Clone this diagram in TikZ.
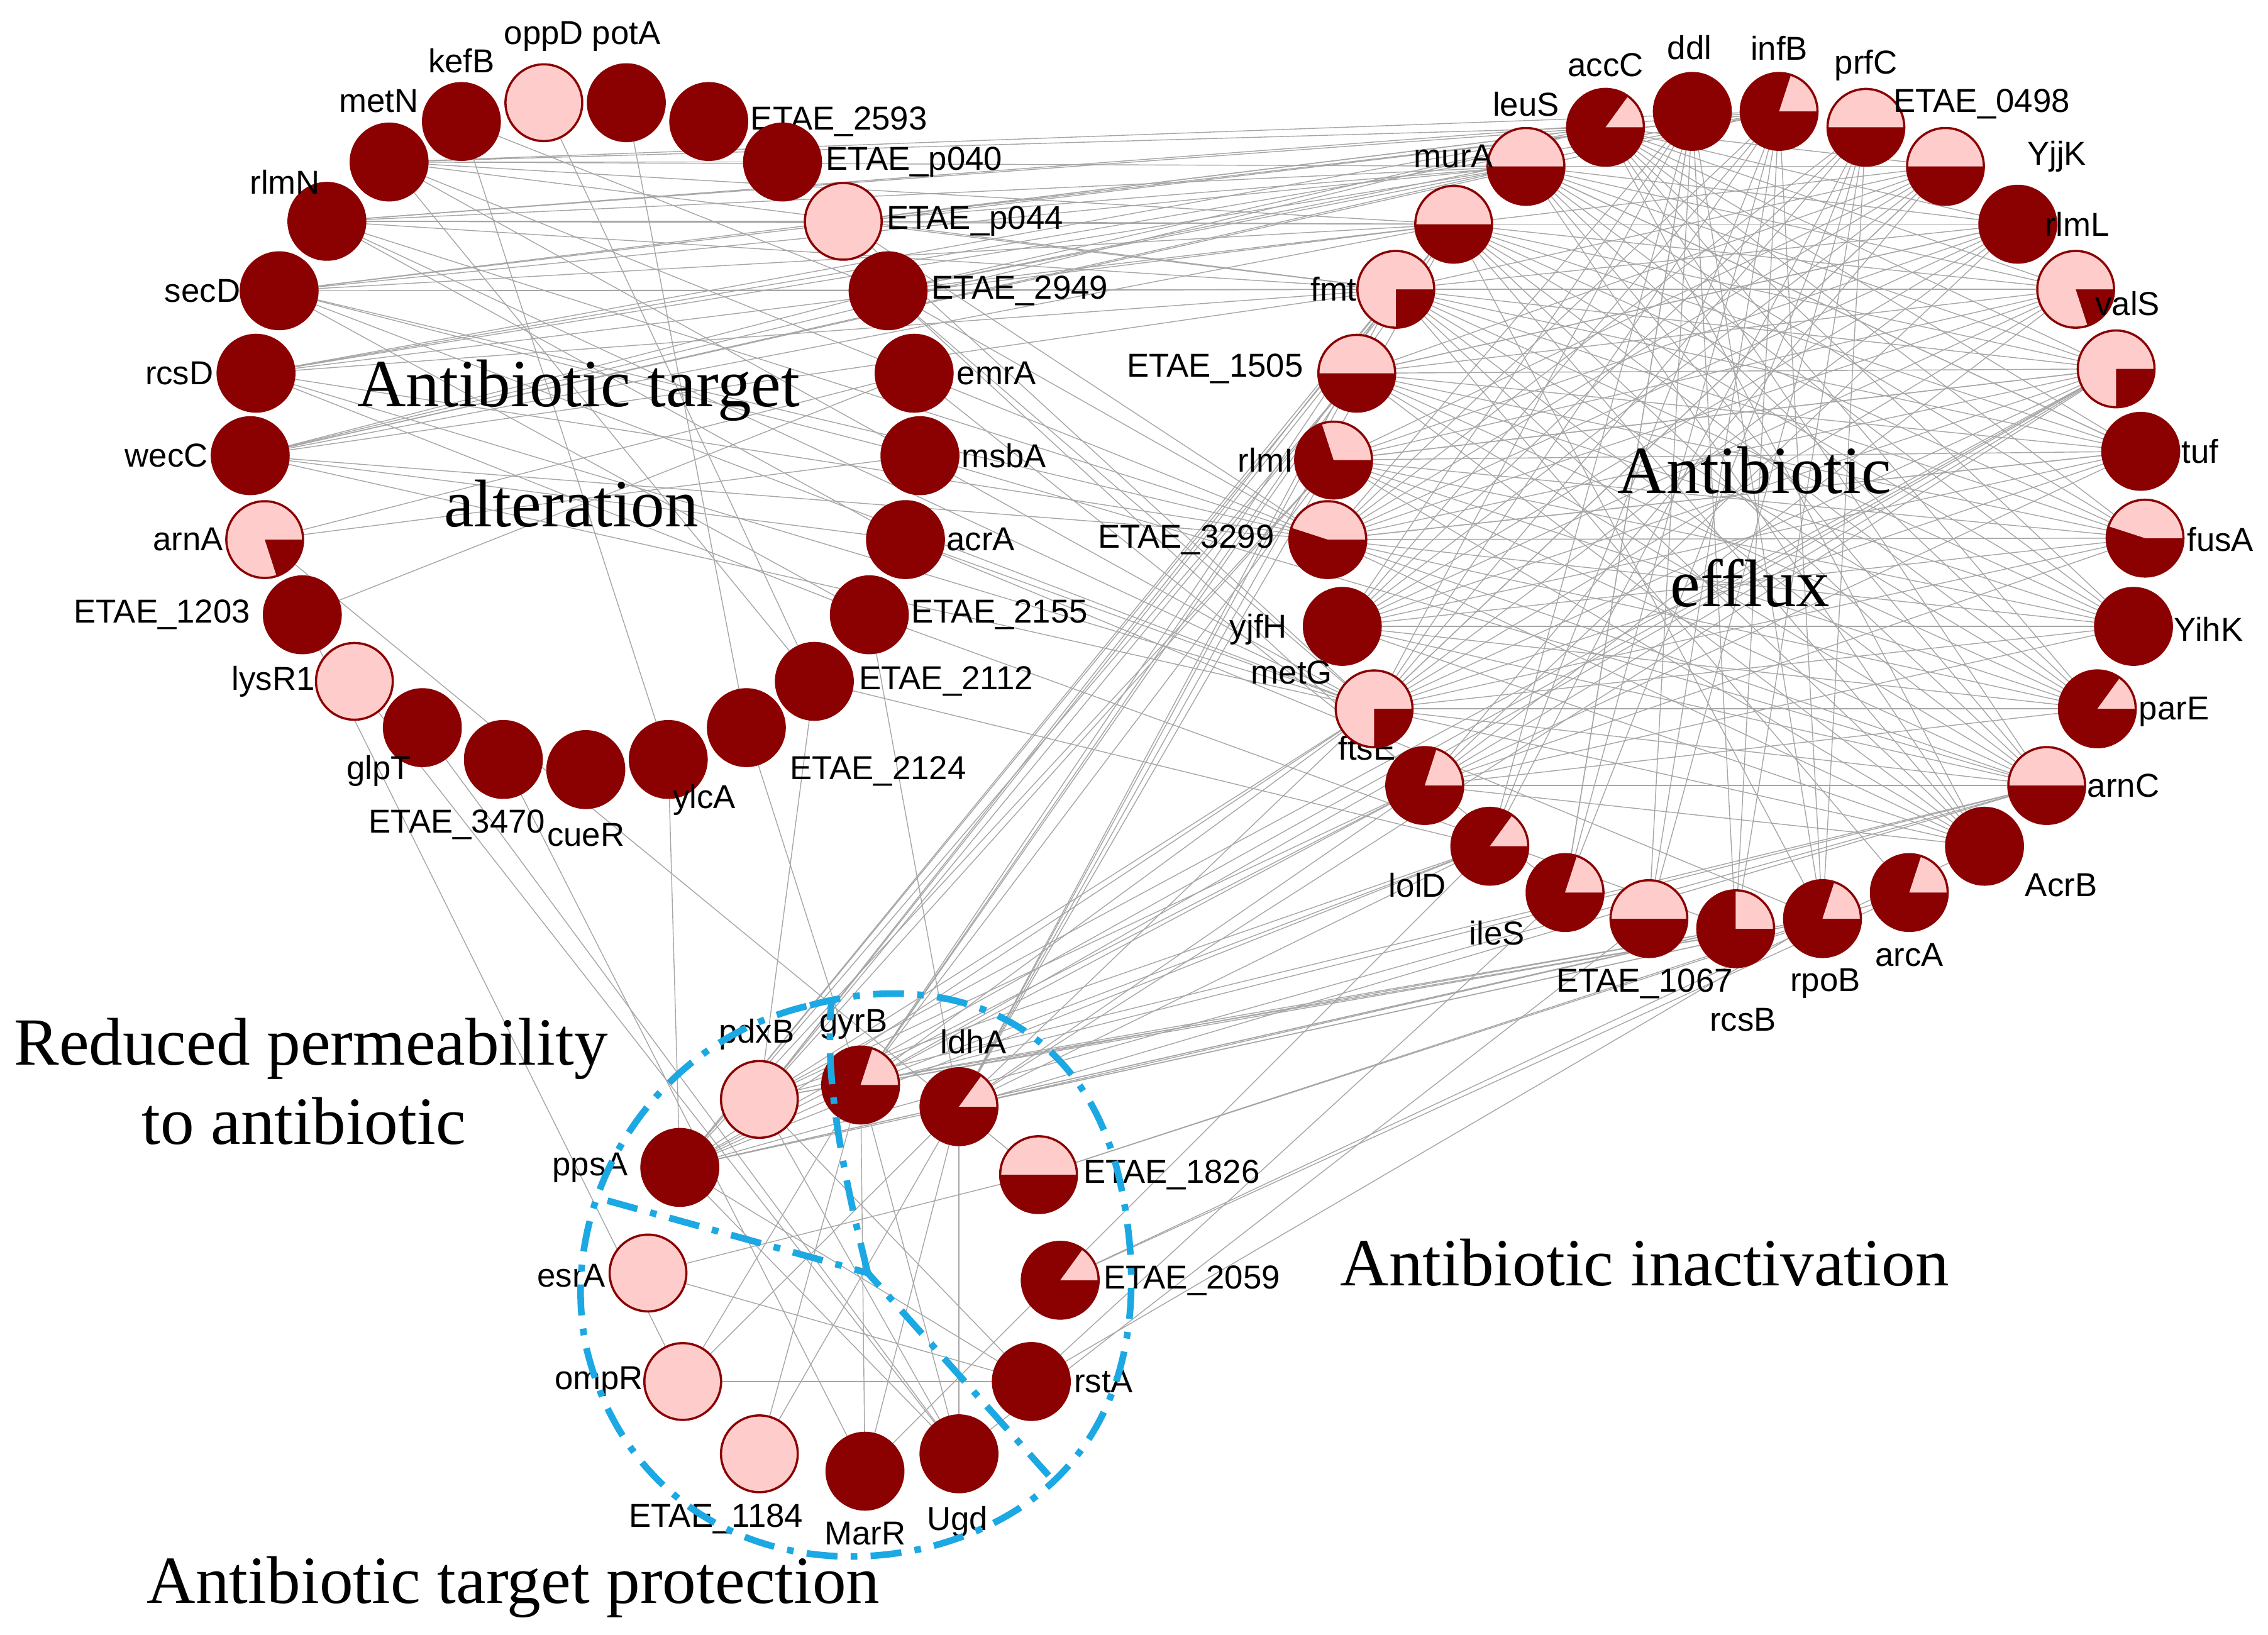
\documentclass[tikz,border=0pt]{standalone}
\usepackage{fontspec}
\setmainfont{Liberation Serif}
\newfontfamily\arialf{Liberation Sans}
\usetikzlibrary{backgrounds}
\definecolor{dr}{HTML}{8B0000}
\definecolor{pk}{HTML}{FFCCCC}
\definecolor{bl}{HTML}{1CA8E3}
\tikzset{
 gene/.style={circle,fill=dr,minimum size=1.24cm,inner sep=0pt},
 lab/.style={font=\arialf\fontsize{15}{17}\selectfont,inner sep=0pt},
 big/.style={font=\fontsize{30.5}{33}\selectfont,inner sep=0pt},
 edge/.style={gray!70,line width=0.4pt},
 loop/.style={bl,line width=3pt,dash pattern=on 14pt off 6pt on 3pt off 6pt}
}
\newcommand\gn[7]{%
 \node[gene] (#1) at (#2,#3) {};
 \ifdim #4pt>0pt \fill[pk] (#1.center) -- ++(0:0.6cm) arc (0:360*#4:0.6cm) -- cycle;\fi
 \draw[dr,line width=1pt] (#1.center) circle (0.61cm);
 \node[lab] (#1-l) at (#6,#7) {#5};}
\begin{document}
\begin{tikzpicture}[x=0.023cm,y=-0.023cm]
\useasboundingbox (0,0) rectangle (1568,1130);
% left ring
\gn{oppD}{376}{71}{1}{oppD}{376}{25}
\gn{potA}{433}{71}{0}{potA}{433}{25}
\gn{kefB}{319}{84}{0}{kefB}{319}{42}
\gn{metN}{269}{112}{0}{metN}{262}{70}
\gn{e2593}{490}{84}{0}{ETAE\_2593}{580}{84}
\gn{p040}{541}{112}{0}{ETAE\_p040}{632}{112}
\gn{rlmN}{226}{153}{0}{rlmN}{197}{126}
\gn{p044}{583}{153}{1}{ETAE\_p044}{674}{153}
\gn{secD}{193}{201}{0}{secD}{140}{201}
\gn{e2949}{614}{201}{0}{ETAE\_2949}{705}{201}
\gn{rcsD}{177}{258}{0}{rcsD}{124}{258}
\gn{emrA}{632}{258}{0}{emrA}{689}{258}
\gn{wecC}{173}{315}{0}{wecC}{115}{315}
\gn{msbA}{636}{315}{0}{msbA}{694}{315}
\gn{arnA}{183}{373}{0.8}{arnA}{130}{373}
\gn{acrA}{626}{373}{0}{acrA}{678}{373}
\gn{e1203}{209}{425}{0}{ETAE\_1203}{112}{425}
\gn{e2155}{601}{425}{0}{ETAE\_2155}{691}{425}
\gn{lysR1}{245}{471}{1}{lysR1}{189}{471}
\gn{e2112}{563}{471}{0}{ETAE\_2112}{654}{471}
\gn{glpT}{292}{503}{0}{glpT}{262}{533}
\gn{e2124}{516}{503}{0}{ETAE\_2124}{607}{533}
\gn{e3470}{348}{525}{0}{ETAE\_3470}{316}{570}
\gn{cueR}{405}{532}{0}{cueR}{405}{577}
\gn{ylcA}{462}{525}{0}{ylcA}{487}{553}
% right ring
\gn{leuS}{1055}{115}{0.5}{leuS}{1055}{72}
\gn{accC}{1110}{88}{0.15}{accC}{1110}{45}
\gn{ddl}{1170}{77}{0}{ddl}{1168}{33}
\gn{infB}{1230}{77}{0.2}{infB}{1230}{33}
\gn{prfC}{1290}{88}{0.5}{prfC}{1290}{45}
\gn{e0498}{1345}{115}{0.5}{ETAE\_0498}{1370}{72}
\gn{YjjK}{1395}{155}{0}{YjjK}{1422}{108}
\gn{rlmL}{1435}{200}{0.8}{rlmL}{1436}{155}
\gn{valS}{1463}{255}{0.75}{valS}{1471}{210}
\gn{tuf}{1480}{312}{0}{tuf}{1521}{312}
\gn{fusA}{1483}{372}{0.45}{fusA}{1535}{373}
\gn{YihK}{1475}{433}{0}{YihK}{1527}{435}
\gn{parE}{1450}{490}{0.15}{parE}{1503}{492}
\gn{arnC}{1415}{543}{0.5}{arnC}{1468}{543}
\gn{AcrB}{1372}{585}{0}{AcrB}{1425}{612}
\gn{arcA}{1320}{617}{0.2}{arcA}{1320}{660}
\gn{rpoB}{1260}{635}{0.2}{rpoB}{1262}{680}
\gn{rcsB}{1200}{642}{0.25}{rcsB}{1205}{705}
\gn{e1067}{1140}{635}{0.5}{ETAE\_1067}{1137}{680}
\gn{ileS}{1082}{617}{0.2}{ileS}{1035}{645}
\gn{lolD}{1030}{585}{0.15}{lolD}{980}{612}
\gn{ftsE}{985}{543}{0.2}{ftsE}{945}{517}
\gn{metG}{950}{490}{0.75}{metG}{893}{465}
\gn{yjfH}{928}{433}{0}{yjfH}{870}{435}
\gn{e3299}{918}{373}{0.45}{ETAE\_3299}{820}{373}
\gn{rlmI}{922}{318}{0.3}{rlmI}{875}{318}
\gn{e1505}{938}{258}{0.5}{ETAE\_1505}{840}{255}
\gn{fmt}{965}{200}{0.75}{fmt}{922}{200}
\gn{murA}{1005}{155}{0.5}{murA}{1005}{108}
% bottom cluster
\gn{pdxB}{525}{760}{1}{pdxB}{523}{715}
\gn{gyrB}{595}{750}{0.2}{gyrB}{590}{708}
\gn{ldhA}{663}{765}{0.15}{ldhA}{673}{720}
\gn{e1826}{718}{812}{0.5}{ETAE\_1826}{810}{812}
\gn{e2059}{733}{885}{0.15}{ETAE\_2059}{824}{885}
\gn{rstA}{713}{955}{0}{rstA}{763}{955}
\gn{Ugd}{663}{1005}{0}{Ugd}{662}{1052}
\gn{MarR}{598}{1017}{0}{MarR}{598}{1060}
\gn{e1184}{525}{1005}{1}{ETAE\_1184}{495}{1050}
\gn{ompR}{472}{955}{1}{ompR}{414}{955}
\gn{esrA}{448}{880}{1}{esrA}{395}{882}
\gn{ppsA}{470}{807}{0}{ppsA}{408}{807}
% edges
\begin{scope}[on background layer]
\foreach \a in {leuS,murA,fmt,e1505,rlmI,e3299,metG,ftsE,yjfH,accC}
 \foreach \b in {tuf,fusA,valS,rlmL,YihK,parE,arnC,e0498,YjjK,AcrB}
  \draw[edge] (\a) -- (\b);
\foreach \a in {infB,ddl,prfC}
 \foreach \b in {lolD,ileS,e1067,rcsB,rpoB,metG,yjfH,e3299}
  \draw[edge] (\a) -- (\b);
\foreach \a in {gyrB,ldhA,ppsA,pdxB}
 \foreach \b in {murA,fmt,e1505,rlmI,metG,ftsE,lolD,rcsB,rpoB,arnC,valS}
  \draw[edge] (\a) -- (\b);
\foreach \a in {secD,rlmN,wecC,rcsD,p044,e2949,metN}
 \foreach \b in {leuS,accC,infB,murA,fmt,e3299,metG}
  \draw[edge] (\a) -- (\b);
\foreach \a/\b in {rlmN/p044,secD/e2949,secD/msbA,wecC/acrA,arnA/emrA,rcsD/e2155,metN/e2112,kefB/ylcA,
 rlmN/acrA,secD/e2155,wecC/e2949,arnA/msbA,e1203/emrA,potA/e2124,oppD/e2112,metN/p040,kefB/e2949,
 glpT/Ugd,e1203/ompR,lysR1/Ugd,e3470/MarR,e2124/gyrB,arnA/e1826,e2155/ldhA,e2112/pdxB,ylcA/ppsA,
 acrA/rpoB,msbA/arnC,emrA/ileS,e2155/rcsB,e2112/lolD,e2949/ftsE,acrA/metG,
 ppsA/gyrB,ppsA/rstA,esrA/rstA,ompR/rstA,ompR/gyrB,e1184/ldhA,pdxB/Ugd,gyrB/Ugd,ldhA/MarR,esrA/e1826,
 ppsA/Ugd,ompR/ldhA,e1184/gyrB,MarR/gyrB,Ugd/ldhA,rstA/pdxB,
 rpoB/rstA,AcrB/e2059,arcA/e1826,rcsB/ppsA,e1067/Ugd,ileS/rstA,arcA/e2059,rpoB/e1826,lolD/MarR,
 leuS/tuf,murA/rpoB,fmt/arcA,ddl/ileS,e0498/metG,tuf/e3299,YjjK/e1505,valS/rlmI}
 \draw[edge] (\a) -- (\b);
\end{scope}
% blue loops
\draw[loop] (560,695) .. controls (650,670) and (750,700) .. (775,820)
 .. controls (800,940) and (760,1040) .. (640,1070)
 .. controls (530,1095) and (430,1040) .. (405,930)
 .. controls (385,830) and (450,720) .. (560,695);
\draw[loop] (420,830) -- (600,880) -- (725,1020);
\draw[loop] (600,880) .. controls (580,800) and (570,740) .. (575,690);
% big labels
\node[big] (t1) at (400,270) {Antibiotic target};
\node[big] (t2) at (395,348) {alteration};
\node[big] (t3) at (1213,325) {Antibiotic};
\node[big] (t4) at (1210,403) {efflux};
\node[big] (t5) at (215,725) {Reduced permeability};
\node[big] (t6) at (210,775) {to antibiotic};
\node[big] (t7) at (1137,873) {Antibiotic inactivation};
\node[big] (t8) at (355,1097) {Antibiotic target protection};
\end{tikzpicture}
\end{document}
